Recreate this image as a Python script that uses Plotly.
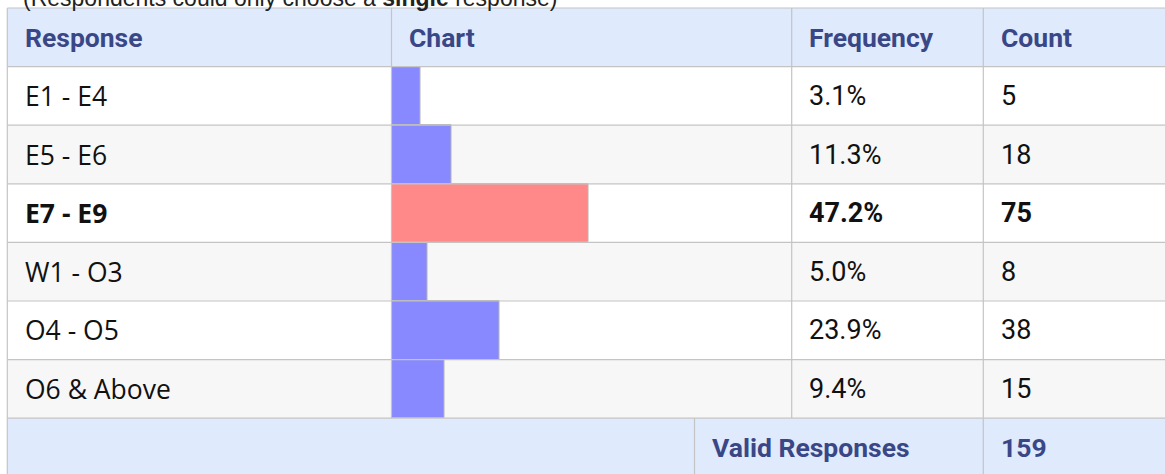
import plotly.graph_objects as go

# ---------------- data ----------------
responses = ["E1 - E4", "E5 - E6", "E7 - E9", "W1 - O3", "O4 - O5", "O6 & Above"]
frequency = [3.1, 11.3, 47.2, 5.0, 23.9, 9.4]
counts = [5, 18, 75, 8, 38, 15]
headers = ["Response", "Chart", "Frequency", "Count"]
total_label = "Valid Responses"
total_count = 159
note_text = "(Respondents could only choose a <b>single</b> response)"

# ---------------- layout constants (pixels) ----------------
W, H = 1165, 474
TABLE_TOP = 8.0
ROW_H = 58.6
COL_LEFT = [7.3, 391.5, 791.7, 983.3]
CHART_RIGHT = 791.7
FOOTER_SPLIT = 694.5
PAD = 15.3

HEADER_BG = "#dfeafc"
ALT_BG = "#f7f7f7"
BORDER = "#c4c4c4"
HEAD_COLOR = "#3a4787"
TEXT_COLOR = "#111111"
BLUE = "#8888ff"
RED = "#ff8888"

# bar axis: value 0 sits a little inside the column (minimum bar stub)
AX_MIN = -4.36
AX_PER_PX = 1 / 3.83
AX_MAX = AX_MIN + (CHART_RIGHT - COL_LEFT[1]) * AX_PER_PX

# row-index axis covering the whole figure height
y_top = -0.5 - TABLE_TOP / ROW_H
y_bot = -0.5 + (H - TABLE_TOP) / ROW_H
n = len(responses)
footer_idx = n + 1


def px(x):
    return x / W


max_i = frequency.index(max(frequency))
rows = list(range(1, n + 1))

fig = go.Figure()
fig.add_trace(go.Bar(
    y=rows,
    x=[f - AX_MIN for f in frequency],
    base=AX_MIN,
    orientation="h",
    width=1,
    marker=dict(color=[RED if i == max_i else BLUE for i in range(n)],
                line=dict(color="#b4b4b4", width=1)),
    hoverinfo="skip",
    showlegend=False,
))

shapes = []
# backgrounds
shapes.append(dict(type="rect", xref="paper", yref="y", x0=px(COL_LEFT[0]), x1=1.02,
                   y0=-0.5, y1=0.5, fillcolor=HEADER_BG, line_width=0, layer="below"))
for i in range(n):
    r = i + 1
    shapes.append(dict(type="rect", xref="paper", yref="y", x0=px(COL_LEFT[0]), x1=1.02,
                       y0=r - 0.5, y1=r + 0.5,
                       fillcolor=(ALT_BG if i % 2 == 1 else "white"), line_width=0, layer="below"))
shapes.append(dict(type="rect", xref="paper", yref="y", x0=px(COL_LEFT[0]), x1=1.02,
                   y0=footer_idx - 0.5, y1=footer_idx + 1.5, fillcolor=HEADER_BG,
                   line_width=0, layer="below"))
# horizontal borders
for k in range(footer_idx + 1):
    shapes.append(dict(type="line", xref="paper", yref="y", x0=px(COL_LEFT[0]), x1=1.02,
                       y0=k - 0.5, y1=k - 0.5, line=dict(color=BORDER, width=1.2), layer="above"))
# vertical borders
shapes.append(dict(type="line", xref="paper", yref="y", x0=px(COL_LEFT[0]), x1=px(COL_LEFT[0]),
                   y0=-0.5, y1=footer_idx + 1.5, line=dict(color=BORDER, width=1.2), layer="above"))
for c in COL_LEFT[1:]:
    shapes.append(dict(type="line", xref="paper", yref="y", x0=px(c), x1=px(c),
                       y0=-0.5, y1=footer_idx - 0.5, line=dict(color=BORDER, width=1.2), layer="above"))
for c in [FOOTER_SPLIT, COL_LEFT[3]]:
    shapes.append(dict(type="line", xref="paper", yref="y", x0=px(c), x1=px(c),
                       y0=footer_idx - 0.5, y1=footer_idx + 1.5, line=dict(color=BORDER, width=1.2),
                       layer="above"))

HEAD_FONT = dict(family="Roboto", size=26.5, color=HEAD_COLOR)
NUM_FONT = dict(family="Roboto", size=27, color=TEXT_COLOR)
LAB_FONT = dict(family="Open Sans", size=26.5, color=TEXT_COLOR)

ann = []


def add_text(x, row, text, font):
    ann.append(dict(xref="paper", yref="y", x=px(x), y=row, text=text, showarrow=False,
                    xanchor="left", yanchor="middle", font=font))


for c, h in zip(COL_LEFT, headers):
    add_text(c + PAD, 0, "<b>%s</b>" % h, HEAD_FONT)

for i in range(n):
    r = i + 1
    bold = (i == max_i)
    wrap = (lambda s: "<b>%s</b>" % s) if bold else (lambda s: s)
    add_text(COL_LEFT[0] + PAD, r, wrap(responses[i]), LAB_FONT)
    add_text(COL_LEFT[2] + PAD, r, wrap("%.1f%%" % frequency[i]), NUM_FONT)
    add_text(COL_LEFT[3] + PAD, r, wrap(str(counts[i])), NUM_FONT)

add_text(FOOTER_SPLIT + PAD, footer_idx, "<b>%s</b>" % total_label, HEAD_FONT)
add_text(COL_LEFT[3] + PAD, footer_idx, "<b>%d</b>" % total_count, HEAD_FONT)

# note above table (mostly cut off at the top)
ann.append(dict(xref="paper", yref="y", x=px(20.5), y=-0.5 + (13 - TABLE_TOP) / ROW_H,
                text=note_text, showarrow=False, xanchor="left", yanchor="bottom",
                font=dict(family="Liberation Sans", size=23, color="#222222")))

fig.update_layout(
    width=W, height=H,
    margin=dict(l=0, r=0, t=0, b=0),
    paper_bgcolor="white",
    plot_bgcolor="rgba(0,0,0,0)",
    bargap=0,
    showlegend=False,
    shapes=shapes,
    annotations=ann,
    xaxis=dict(domain=[px(COL_LEFT[1]), px(CHART_RIGHT)], range=[AX_MIN, AX_MAX],
               visible=False, fixedrange=True),
    yaxis=dict(domain=[0, 1], range=[y_bot, y_top], visible=False, fixedrange=True),
)

fig.write_html("out.html",
               config={"displayModeBar": False},
               post_script="document.body.style.margin='0';document.body.style.overflow='hidden';")
